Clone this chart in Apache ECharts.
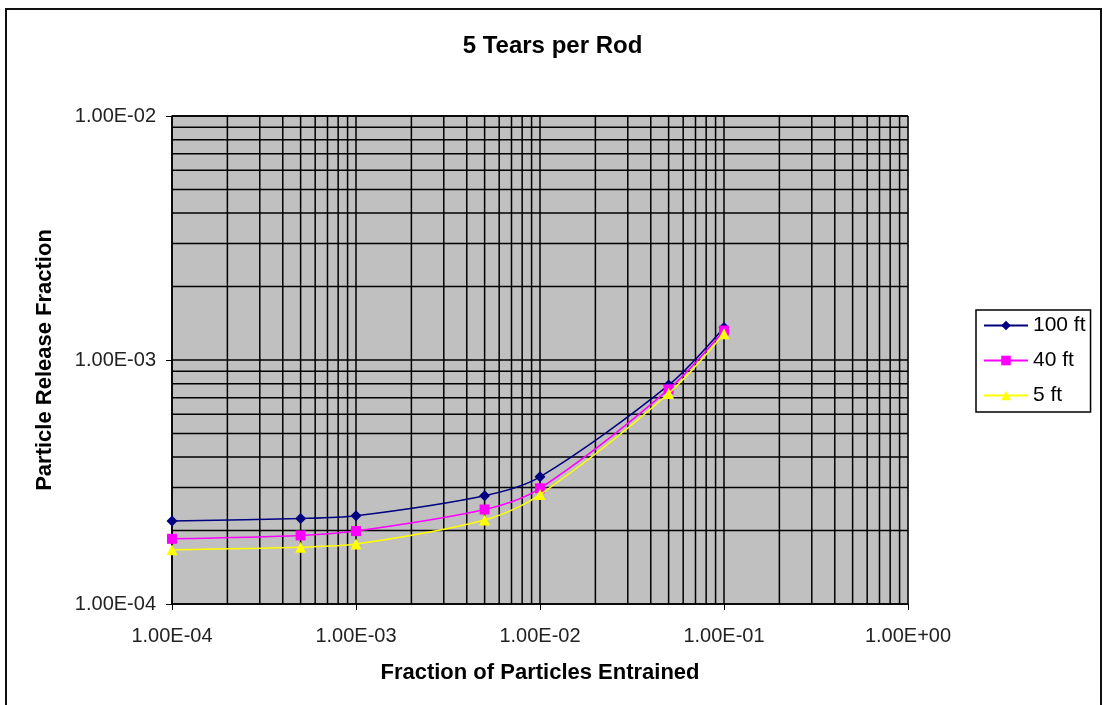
<!DOCTYPE html>
<html>
<head>
<meta charset="utf-8">
<script src="https://cdn.jsdelivr.net/npm/echarts@6/dist/echarts.min.js"></script>
<style>
  html, body { margin: 0; padding: 0; background: #fff; }
  #chart { width: 1105px; height: 705px; }
</style>
</head>
<body>
<div id="chart"></div>
<script>
// Fraction of particles entrained (x) for each run
const entrained = [1e-4, 5e-4, 1e-3, 5e-3, 1e-2, 5e-2, 1e-1];

// Particle release fraction for each drop height
const release100ft = [2.19e-4, 2.24e-4, 2.30e-4, 2.78e-4, 3.32e-4, 7.89e-4, 1.36e-3];
const release40ft  = [1.85e-4, 1.91e-4, 1.99e-4, 2.44e-4, 2.98e-4, 7.58e-4, 1.32e-3];
const release5ft   = [1.67e-4, 1.71e-4, 1.76e-4, 2.21e-4, 2.81e-4, 7.29e-4, 1.28e-3];

const seriesNames = ['100 ft', '40 ft', '5 ft'];

// Tick labels, one per decade
const xTickLabels = ['1.00E-04', '1.00E-03', '1.00E-02', '1.00E-01', '1.00E+00'];
const yTickLabels = ['1.00E-04', '1.00E-03', '1.00E-02'];

const X_MIN = 1e-4, X_MAX = 1, Y_MIN = 1e-4, Y_MAX = 1e-2;

// Minor gridline positions (2..9 within each decade)
const xMinor = [];
for (let d = -4; d < 0; d++) for (let m = 2; m <= 9; m++) xMinor.push(m * Math.pow(10, d));
const yMinor = [];
for (let d = -4; d < -2; d++) for (let m = 2; m <= 9; m++) yMinor.push(m * Math.pow(10, d));

const pairs = ys => entrained.map((x, i) => [x, ys[i]]);
const decadeIndex = (v, min) => Math.round(Math.log10(v) - Math.log10(min));

const FONT = 'Liberation Sans, Arial, sans-serif';

// Each minor gridline is a two-point line placed on the log scales
const minorLine = pts => ({
  type: 'line',
  data: pts,
  silent: true,
  symbol: 'none',
  z: 1,
  animation: false,
  lineStyle: { color: '#000', width: 1.5 },
  emphasis: { disabled: true },
  tooltip: { show: false }
});
const minorSeries = xMinor.map(v => minorLine([[v, Y_MIN], [v, Y_MAX]]))
  .concat(yMinor.map(v => minorLine([[X_MIN, v], [X_MAX, v]])));

const chart = echarts.init(document.getElementById('chart'), null, { renderer: 'canvas' });

chart.setOption({
  animation: false,
  backgroundColor: '#fff',
  textStyle: { fontFamily: FONT },
  graphic: [{
    type: 'rect',
    shape: { x: 6, y: 9, width: 1095, height: 720 },
    style: { fill: 'none', stroke: '#111', lineWidth: 2 },
    silent: true, z: -10
  }],
  title: {
    text: '5 Tears per Rod',
    left: 'center',
    top: 29,
    textStyle: { fontSize: 24, fontWeight: 'bold', color: '#000', fontFamily: FONT }
  },
  legend: {
    orient: 'vertical',
    left: 976,
    top: 310,
    data: seriesNames,
    itemWidth: 44,
    itemHeight: 12,
    itemGap: 14,
    padding: [5, 5, 6, 7],
    borderColor: '#000',
    borderWidth: 1.5,
    borderRadius: 0,
    backgroundColor: '#fff',
    textStyle: { fontSize: 21, color: '#000', fontFamily: FONT }
  },
  grid: { left: 172, right: 197, top: 116, bottom: 101, show: true, backgroundColor: '#c0c0c0', borderColor: '#999', borderWidth: 1 },
  xAxis: {
    type: 'log',
    logBase: 10,
    min: X_MIN,
    max: X_MAX,
    name: 'Fraction of Particles Entrained',
    nameLocation: 'middle',
    nameGap: 58,
    nameTextStyle: { fontSize: 22, fontWeight: 'bold', color: '#000' },
    axisLine: { lineStyle: { color: '#000', width: 1.5 } },
    axisTick: { show: true, length: 6, inside: false, lineStyle: { color: '#000' } },
    axisLabel: { fontSize: 20, color: '#222', margin: 22, formatter: v => xTickLabels[decadeIndex(v, X_MIN)] },
    splitLine: { show: true, lineStyle: { color: '#000', width: 1.5 } },
    minorTick: { show: false },
    minorSplitLine: { show: false }
  },
  yAxis: {
    type: 'log',
    logBase: 10,
    min: Y_MIN,
    max: Y_MAX,
    name: 'Particle Release Fraction',
    nameLocation: 'middle',
    nameGap: 116,
    nameTextStyle: { fontSize: 22, fontWeight: 'bold', color: '#000' },
    axisLine: { lineStyle: { color: '#000', width: 1.5 } },
    axisTick: { show: true, length: 6, inside: false, lineStyle: { color: '#000' } },
    axisLabel: { fontSize: 20, color: '#222', margin: 16, formatter: v => yTickLabels[decadeIndex(v, Y_MIN)] },
    splitLine: { show: true, lineStyle: { color: '#000', width: 1.5 } },
    minorTick: { show: false },
    minorSplitLine: { show: false }
  },
  series: minorSeries.concat([
    {
      name: seriesNames[0],
      type: 'line',
      data: pairs(release100ft),
      smooth: 0.3,
      symbol: 'diamond',
      symbolSize: 11,
      z: 4,
      itemStyle: { color: '#000080' },
      lineStyle: { color: '#000080', width: 1.5 }
    },
    {
      name: seriesNames[1],
      type: 'line',
      data: pairs(release40ft),
      smooth: 0.3,
      symbol: 'rect',
      symbolSize: 10,
      z: 5,
      itemStyle: { color: '#ff00ff' },
      lineStyle: { color: '#ff00ff', width: 1.5 }
    },
    {
      name: seriesNames[2],
      type: 'line',
      data: pairs(release5ft),
      smooth: 0.3,
      symbol: 'triangle',
      symbolSize: 11,
      z: 6,
      itemStyle: { color: '#ffff00' },
      lineStyle: { color: '#ffff00', width: 1.5 }
    }
  ])
});
</script>
</body>
</html>
